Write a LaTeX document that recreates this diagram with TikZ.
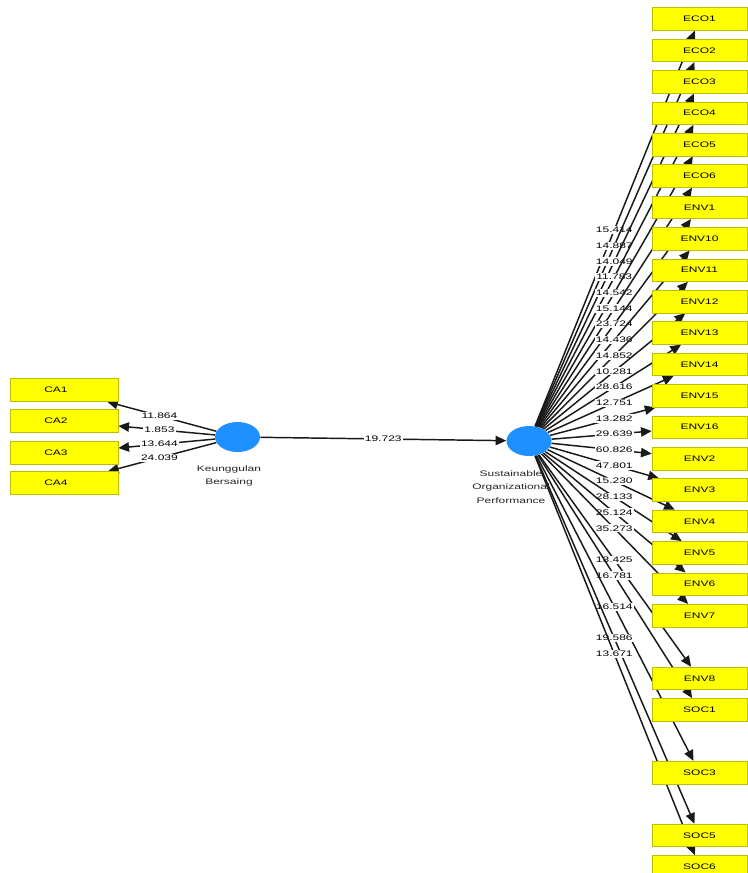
\documentclass[tikz,border=0pt]{standalone}
\usepackage{fontspec}
\setmainfont{Liberation Sans}
\usepackage{graphicx}
\usetikzlibrary{arrows.meta,shapes.geometric,calc}
\pgfdeclarelayer{back}
\pgfdeclarelayer{front}
\pgfsetlayers{back,main,front}
\definecolor{latblue}{RGB}{30,144,255}
\definecolor{indfill}{RGB}{255,255,0}
\definecolor{indedge}{RGB}{190,190,0}
% wide, short lettering used throughout the model
\newcommand{\stretchtxt}[1]{\scalebox{1.5}[1]{#1}}
\tikzset{
  ind/.style={rectangle, draw=indedge, line width=0.5pt, fill=indfill,
    minimum height=17pt, inner sep=0pt, font=\fontsize{6}{7}\selectfont},
  indR/.style={ind, minimum width=71.25pt},
  indL/.style={ind, minimum width=81pt},
  lat/.style={ellipse, fill=latblue, minimum width=33.75pt,
    minimum height=22.5pt, inner sep=0pt},
  conn/.style={draw=black!90, line width=1.1pt,
    -{Triangle[length=8pt,width=7pt]}},
  wt/.style={fill=white, inner sep=1pt, font=\fontsize{6}{7}\selectfont},
  lvname/.style={align=center, font=\fontsize{6}{10}\selectfont, text=black!85}
}
\begin{document}
\begin{tikzpicture}[x=0.75pt, y=-0.75pt]
\clip (0,0) rectangle (747,873);

% latent variables and indicators
\begin{pgfonlayer}{front}
  \node[lat] (ka) at (237.5,437) {};
  \node[lat] (sop) at (529,441) {};
  % the CA captions sit a little left of the box centre
  \foreach \n/\yy in {CA1/390, CA2/421, CA3/453, CA4/483}
    \node[indL] (\n) at (64,\yy) {\hspace*{-12pt}\stretchtxt{\n}};
  \foreach \n/\s in {ECO1/0, ECO2/1, ECO3/2, ECO4/3, ECO5/4, ECO6/5,
      ENV1/6, ENV10/7, ENV11/8, ENV12/9, ENV13/10, ENV14/11, ENV15/12,
      ENV16/13, ENV2/14, ENV3/15, ENV4/16, ENV5/17, ENV6/18, ENV7/19,
      ENV8/21, SOC1/22, SOC3/24, SOC5/26, SOC6/27}
    \node[indR] (\n) at (699.5,{19+31.4*\s}) {\stretchtxt{\n}};
\end{pgfonlayer}

% white sheet and latent variable names
\begin{pgfonlayer}{back}
  \fill[white] (0,0) rectangle (747,873);
  \node[lvname] (kaname) at (229,476) {\stretchtxt{Keunggulan}\\\stretchtxt{Bersaing}};
  \node[lvname] (sopname) at (511,487) {\stretchtxt{Sustainable}\\\stretchtxt{Organizational}\\\stretchtxt{Performance}};
\end{pgfonlayer}

% structural path
\draw[conn] (ka) -- (sop);
\node[wt] (w0) at ($(ka.center)!0.5!(sop.center)$) {\stretchtxt{19.723}};

% outer model of Keunggulan Bersaing
\foreach \n/\v [count=\i] in {CA1/11.864, CA2/1.853, CA3/13.644, CA4/24.039} {
  \draw[conn] (ka) -- (\n);
  \node[wt] (wl\i) at ($(ka.center)!0.45!(\n.center)$) {\stretchtxt{\v}};
}

% outer model of Sustainable Organizational Performance
\foreach \n/\v [count=\i] in {ECO1/15.414, ECO2/14.887, ECO3/14.049,
    ECO4/11.783, ECO5/14.542, ECO6/15.144, ENV1/23.724, ENV10/14.436,
    ENV11/14.852, ENV12/10.281, ENV13/28.616, ENV14/12.751, ENV15/13.282,
    ENV16/29.639, ENV2/60.826, ENV3/47.801, ENV4/15.230, ENV5/28.133,
    ENV6/25.124, ENV7/35.273, ENV8/13.425, SOC1/16.781, SOC3/16.514,
    SOC5/19.586, SOC6/13.671} {
  \draw[conn] (sop) -- (\n);
  \node[wt] (wr\i) at ($(sop.center)!0.5!(\n.center)$) {\stretchtxt{\v}};
}
\end{tikzpicture}
\end{document}
